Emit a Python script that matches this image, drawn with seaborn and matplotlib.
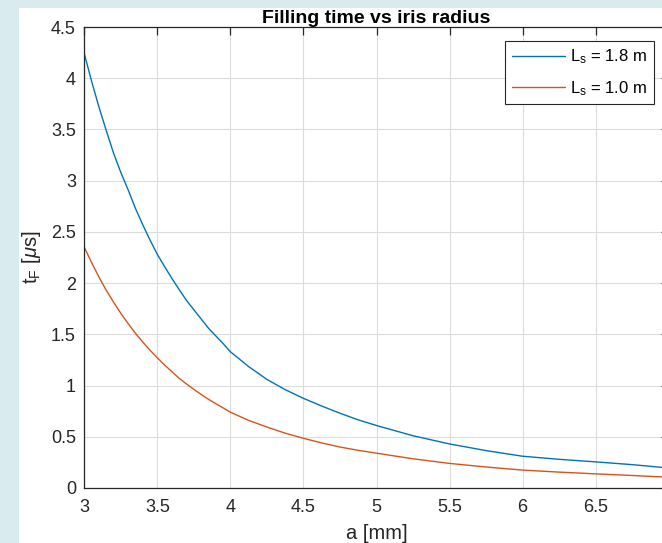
import matplotlib
matplotlib.use("Agg")
import matplotlib.pyplot as plt
import matplotlib.patches as mpatches
import seaborn as sns
import pandas as pd

# ---- data ----
a_mm = [3.0, 3.05, 3.1, 3.15, 3.2, 3.25, 3.3, 3.35, 3.4, 3.45, 3.5, 3.55, 3.6,
        3.65, 3.7, 3.75, 3.8, 3.85, 3.9, 3.95, 4.0, 4.125, 4.25, 4.375, 4.5,
        4.625, 4.75, 4.875, 5.0, 5.25, 5.5, 5.75, 6.0, 6.25, 6.5, 6.75, 7.0]
t_ls18 = [4.24, 3.97, 3.72, 3.49, 3.27, 3.08, 2.91, 2.73, 2.57, 2.42, 2.28, 2.16,
          2.045, 1.935, 1.83, 1.74, 1.65, 1.56, 1.485, 1.41, 1.33, 1.185, 1.06,
          0.96, 0.875, 0.80, 0.73, 0.665, 0.61, 0.51, 0.43, 0.365, 0.31, 0.28,
          0.255, 0.228, 0.195]
t_ls10 = [2.35, 2.20, 2.06, 1.93, 1.815, 1.705, 1.605, 1.51, 1.425, 1.345, 1.27,
          1.20, 1.135, 1.07, 1.015, 0.963, 0.913, 0.866, 0.823, 0.782, 0.74, 0.66,
          0.595, 0.535, 0.485, 0.44, 0.40, 0.368, 0.34, 0.285, 0.24, 0.205, 0.175,
          0.155, 0.138, 0.122, 0.105]
series_labels = [r"L$_{\mathregular{s}}$ = 1.8 m", r"L$_{\mathregular{s}}$ = 1.0 m"]
x_ticks = [3, 3.5, 4, 4.5, 5, 5.5, 6, 6.5, 7]
x_ticklabels = ["3", "3.5", "4", "4.5", "5", "5.5", "6", "6.5", ""]
y_ticks = [0, 0.5, 1, 1.5, 2, 2.5, 3, 3.5, 4, 4.5]
y_ticklabels = ["0", "0.5", "1", "1.5", "2", "2.5", "3", "3.5", "4", "4.5"]
title = "Filling time vs iris radius"
xlabel = "a [mm]"
ylabel = r"t$_{\mathregular{F}}$ [$\mu$s]"

df = pd.DataFrame({
    "a": a_mm + a_mm,
    "t": t_ls18 + t_ls10,
    "series": [series_labels[0]] * len(a_mm) + [series_labels[1]] * len(a_mm),
})

sns.set_style("white")
plt.rcParams["font.family"] = ["Liberation Sans", "DejaVu Sans"]
plt.rcParams["mathtext.fontset"] = "custom"
plt.rcParams["mathtext.rm"] = "Liberation Sans"
plt.rcParams["mathtext.it"] = "Liberation Sans:italic"

fig = plt.figure(figsize=(6.62, 5.43), dpi=100)
fig.patch.set_facecolor("#D9EBEF")
fig.patches.append(mpatches.Rectangle((19 / 662, 0), 1, (543 - 8) / 543,
                                      transform=fig.transFigure, facecolor="white",
                                      edgecolor="none", zorder=-10))

ax = fig.add_axes([84.3 / 662, 55 / 543, (668.7 - 84.3) / 662, (488 - 27) / 543])
ax.set_facecolor("white")

palette = {series_labels[0]: "#0072BD", series_labels[1]: "#D95319"}
sns.lineplot(data=df, x="a", y="t", hue="series", palette=palette, ax=ax,
             linewidth=1.0, legend=True)

ax.set_xlim(3, 7)
ax.set_ylim(0, 4.5)
ax.set_xticks(x_ticks)
ax.set_yticks(y_ticks)
ax.set_xticklabels(x_ticklabels)
ax.set_yticklabels(y_ticklabels)

axcol = "#262626"
for s in ax.spines.values():
    s.set_color(axcol)
    s.set_linewidth(0.9)
ax.tick_params(direction="in", length=5.5, width=0.9, colors=axcol, labelsize=13,
               top=True, right=True, pad=6)
ax.tick_params(axis="x", pad=8)
ax.grid(True, color="#DCDCDC", linewidth=0.8)
ax.set_axisbelow(True)

ax.set_title(title, fontsize=14, fontweight="bold", color="black", pad=3)
ax.set_xlabel(xlabel, fontsize=14.5, color=axcol, labelpad=6)
ax.set_ylabel(ylabel, fontsize=14.5, color=axcol, labelpad=6)

handles, labels = ax.get_legend_handles_labels()
leg = ax.legend(handles, labels, loc="upper right",
                bbox_to_anchor=(654 / 662, 1 - 41 / 543), bbox_transform=fig.transFigure,
                borderaxespad=0, fancybox=False, framealpha=1, edgecolor=axcol,
                fontsize=12, handlelength=3.2, handletextpad=0.3,
                labelspacing=0.75, borderpad=0.4, title=None)
leg.get_frame().set_linewidth(0.8)
for t in leg.get_texts():
    t.set_color("black")

fig.savefig("out.png", dpi=100, facecolor=fig.get_facecolor())
